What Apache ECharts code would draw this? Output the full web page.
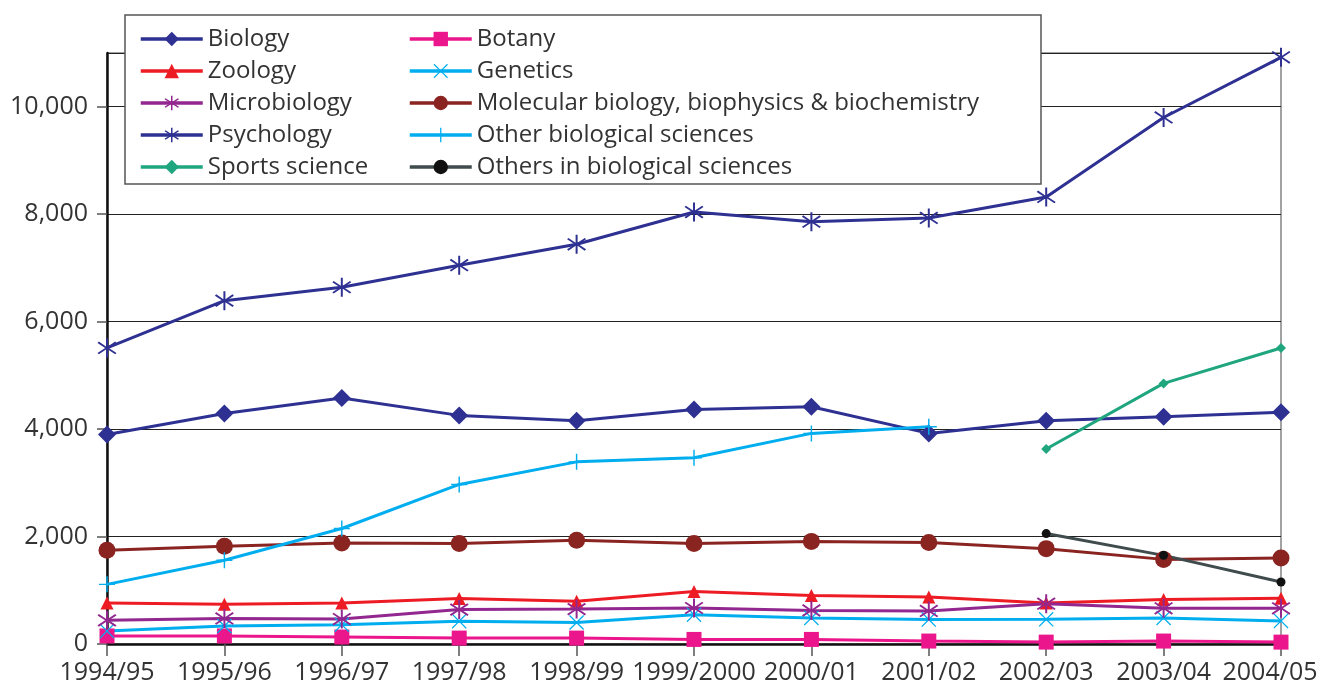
<!DOCTYPE html>
<html>
<head>
<meta charset="utf-8">
<script src="https://cdn.jsdelivr.net/npm/echarts@6/dist/echarts.min.js"></script>
<style>
  html, body { margin: 0; padding: 0; background: #fff; }
  #main { width: 1320px; height: 691px; }
</style>
</head>
<body>
<div id="main"></div>
<script>
// categories / values
var years = ['1994/95', '1995/96', '1996/97', '1997/98', '1998/99', '1999/2000',
  '2000/01', '2001/02', '2002/03', '2003/04', '2004/05'];

var biology = [3900, 4290, 4580, 4255, 4155, 4365, 4415, 3920, 4155, 4230, 4315];
var zoology = [765, 740, 765, 845, 795, 975, 905, 875, 765, 830, 850];
var microbiology = [440, 475, 465, 640, 650, 670, 625, 615, 750, 665, 665];
var psychology = [5510, 6390, 6640, 7050, 7440, 8040, 7860, 7930, 8320, 9800, 10920];
var sportsScience = ['-', '-', '-', '-', '-', '-', '-', '-', 3630, 4850, 5510];
var botany = [150, 150, 130, 110, 110, 85, 85, 55, 35, 55, 35];
var genetics = [240, 335, 360, 425, 400, 545, 485, 455, 460, 485, 430];
var molecular = [1745, 1820, 1880, 1870, 1930, 1870, 1910, 1890, 1775, 1575, 1600];
var otherBio = [1110, 1560, 2150, 2970, 3390, 3465, 3920, 4045, '-', '-', '-'];
var othersInBio = ['-', '-', '-', '-', '-', '-', '-', '-', 2055, 1650, 1155];

var yTicks = [0, 2000, 4000, 6000, 8000, 10000];

// marker shapes
var plusPath = 'path://M9.1,0h1.8v9.1h9.1v1.8h-9.1v9.1h-1.8v-9.1h-9.1v-1.8h9.1z';
var crossPath = 'path://M1.2,0L10,8.8L18.8,0L20,1.2L11.2,10L20,18.8L18.8,20L10,11.2L1.2,20L0,18.8L8.8,10L0,1.2z';
var starPath = 'path://M9.1,0h1.8v8.4L17.4,3.3L18.6,4.8L11.7,10L18.6,15.2L17.4,16.7L10.9,11.6v8.4h-1.8v-8.4L2.6,16.7L1.4,15.2L8.3,10L1.4,4.8L2.6,3.3L9.1,8.4z';

var FONT = 'Open Sans';

function mkLine(name, data, color, symbol, size, extra) {
  var s = {
    name: name,
    type: 'line',
    data: data,
    symbol: symbol,
    symbolSize: size,
    showAllSymbol: true,
    connectNulls: false,
    lineStyle: { color: color, width: 3 },
    itemStyle: { color: color },
    emphasis: { disabled: true }
  };
  if (extra) {
    for (var k in extra) s[k] = extra[k];
  }
  return s;
}

var legendBase = {
  orient: 'vertical',
  top: 18,
  z: 6,
  itemWidth: 62, itemHeight: 18, itemGap: 0,
  lineStyle: { width: 3.5 },
  textStyle: { fontFamily: FONT, fontSize: 24, color: '#333', lineHeight: 32 }
};

var chart = echarts.init(document.getElementById('main'));

chart.setOption({
  animation: false,
  backgroundColor: '#fff',
  textStyle: { fontFamily: FONT },
  grid: {
    left: 107, right: 39, top: 53, bottom: 47,
    outerBoundsMode: 'none',
    containLabel: false,
    show: true, borderColor: '#444', borderWidth: 1
  },
  graphic: [{
    type: 'rect',
    z: 5,
    shape: { x: 125, y: 15, width: 916, height: 169 },
    style: { fill: '#fff', stroke: '#555', lineWidth: 1.5 }
  }],
  legend: [
    Object.assign({}, legendBase, {
      left: 134,
      data: ['Biology', 'Zoology', 'Microbiology', 'Psychology', 'Sports science']
    }),
    Object.assign({}, legendBase, {
      left: 403,
      data: ['Botany', 'Genetics', 'Molecular biology, biophysics & biochemistry',
        'Other biological sciences', 'Others in biological sciences']
    })
  ],
  xAxis: {
    type: 'category',
    data: years,
    boundaryGap: false,
    axisLine: { lineStyle: { color: '#111', width: 2.5 } },
    axisTick: { alignWithLabel: true, length: 12, lineStyle: { color: '#555', width: 1.5 } },
    axisLabel: {
      fontFamily: FONT, fontSize: 25, color: '#333', margin: 16, interval: 0,
      formatter: function (v, i) {
        return i === years.length - 1 ? '{last|' + v + '}' : v;
      },
      rich: {
        last: { fontFamily: FONT, fontSize: 25, color: '#333', padding: [0, 22, 0, 0] }
      }
    },
    splitLine: { show: false }
  },
  yAxis: {
    type: 'value',
    min: 0,
    max: 11000,
    interval: 2000,
    axisLine: { show: true, lineStyle: { color: '#111', width: 2.5 } },
    axisTick: { show: true, length: 10, lineStyle: { color: '#555', width: 1.5 } },
    axisLabel: {
      fontFamily: FONT, fontSize: 25, color: '#333', margin: 19,
      showMaxLabel: false,
      formatter: function (v) {
        return yTicks.indexOf(v) >= 0 ? v.toLocaleString('en-US') : '';
      }
    },
    splitLine: { show: true, lineStyle: { color: '#222', width: 1.2 } }
  },
  series: [
    mkLine('Biology', biology, '#2e3192', 'diamond', 18),
    mkLine('Botany', botany, '#ec168c', 'rect', 15),
    mkLine('Zoology', zoology, '#ed1c24', 'triangle', 13),
    mkLine('Genetics', genetics, '#00aeef', crossPath, 15),
    mkLine('Microbiology', microbiology, '#92278f', starPath, 19),
    mkLine('Molecular biology, biophysics & biochemistry', molecular, '#8a2421', 'circle', 17),
    mkLine('Psychology', psychology, '#2e3192', starPath, 19),
    mkLine('Other biological sciences', otherBio, '#00aeef', plusPath, 16),
    mkLine('Sports science', sportsScience, '#1fa67f', 'diamond', 10),
    mkLine('Others in biological sciences', othersInBio, '#3f4b4c', 'circle', 9,
      { itemStyle: { color: '#111' } })
  ]
});
</script>
</body>
</html>
